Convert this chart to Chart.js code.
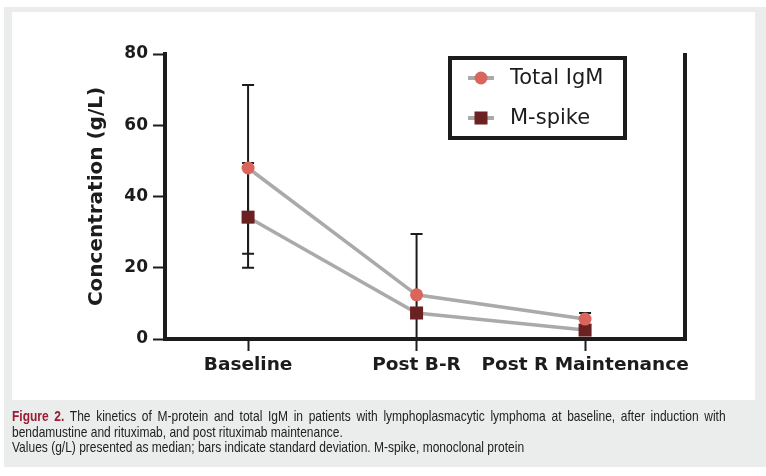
<!DOCTYPE html>
<html>
<head>
<meta charset="utf-8">
<script src="https://cdn.jsdelivr.net/npm/chart.js@4.4.1/dist/chart.umd.min.js"></script>
<style>
  html, body { margin: 0; padding: 0; background: #fff; }
  #frame { position: absolute; left: 4px; top: 7px; width: 762px; height: 460px; background: #ebecec; }
  #panel { position: absolute; left: 12px; top: 12px; width: 743px; height: 388px; background: #fff; }
  #chart { position: absolute; left: 0; top: 0; }
  #caption {
    position: absolute; left: 12px; top: 408px; width: 892px;
    transform: scaleX(0.80); transform-origin: 0 0;
    text-align: justify;
    font-family: "Liberation Sans Narrow", "Liberation Sans", Arial, sans-serif;
    font-size: 15px; line-height: 15.5px; color: #222;
  }
  #caption b { color: #9b1b30; }
</style>
</head>
<body>
<div id="frame"></div>
<div id="panel"></div>
<canvas id="chart" width="766" height="476"></canvas>
<div id="caption">
  <b>Figure 2.</b> The kinetics of M-protein and total IgM in patients with lymphoplasmacytic lymphoma at baseline, after induction with bendamustine and rituximab, and post rituximab maintenance.<br>
  Values (g/L) presented as median; bars indicate standard deviation. M-spike, monoclonal protein
</div>
<script>
// data
const categories = ["Baseline", "Post B-R", "Post R Maintenance"]
const totalIgM = [48, 12.4, 5.6]
const totalIgMHigh = [71.3, 29.5, 7.3]
const totalIgMLow = [23.9, -4.7, 3.9]
const mSpike = [34.2, 7.3, 2.5]
const mSpikeHigh = [49.4, null, null]
const mSpikeLow = [20, null, null]
const yTicks = [0, 20, 40, 60, 80]

const FONT = "'DejaVu Sans', Verdana, sans-serif"
const INK = "#1c1c1c"

const toPoints = (arr) => arr.map((v, i) => ({ x: i, y: v }))

// error bars drawn under the markers
const errorBars = {
  id: "errorBars",
  beforeDatasetsDraw(chart) {
    const { ctx, chartArea, scales } = chart
    const bars = [
      [totalIgMHigh, totalIgMLow],
      [mSpikeHigh, mSpikeLow]
    ]
    ctx.save()
    ctx.beginPath()
    ctx.rect(chartArea.left, chartArea.top - 10, chartArea.right - chartArea.left, chartArea.bottom - chartArea.top + 10)
    ctx.clip()
    ctx.strokeStyle = INK
    ctx.lineWidth = 2
    bars.forEach(([hi, lo]) => {
      hi.forEach((h, i) => {
        if (h === null) return
        const x = scales.x.getPixelForValue(i)
        const yh = scales.y.getPixelForValue(h)
        const yl = scales.y.getPixelForValue(lo[i])
        ctx.beginPath()
        ctx.moveTo(x, yh)
        ctx.lineTo(x, yl)
        ctx.moveTo(x - 6, yh)
        ctx.lineTo(x + 6, yh)
        ctx.moveTo(x - 6, yl)
        ctx.lineTo(x + 6, yl)
        ctx.stroke()
      })
    })
    ctx.restore()
  }
}

// right frame line + boxed legend
const frameAndLegend = {
  id: "frameAndLegend",
  afterDraw(chart) {
    const { ctx, chartArea } = chart
    ctx.save()
    ctx.strokeStyle = INK
    ctx.lineWidth = 4
    ctx.beginPath()
    ctx.moveTo(chartArea.right, chartArea.top - 1)
    ctx.lineTo(chartArea.right, chartArea.bottom + 2)
    ctx.stroke()

    // legend box
    ctx.strokeRect(450, 58, 175, 80)
    const rows = [
      { y: 78, label: "Total IgM", ds: chart.data.datasets[0] },
      { y: 118, label: "M-spike", ds: chart.data.datasets[1] }
    ]
    rows.forEach(r => {
      ctx.strokeStyle = "#aaaaaa"
      ctx.lineWidth = 4
      ctx.beginPath()
      ctx.moveTo(468, r.y)
      ctx.lineTo(494, r.y)
      ctx.stroke()
      ctx.fillStyle = r.ds.pointBackgroundColor
      if (r.ds.pointStyle === "rect") {
        ctx.fillRect(481 - 6.5, r.y - 6.5, 13, 13)
      } else {
        ctx.beginPath()
        ctx.arc(481, r.y, 6.5, 0, Math.PI * 2)
        ctx.fill()
      }
      ctx.fillStyle = INK
      ctx.font = "21px " + FONT
      ctx.textBaseline = "middle"
      ctx.fillText(r.label, 510, r.y + 1)
    })
    ctx.restore()
  }
}

new Chart(document.getElementById("chart"), {
  type: "line",
  data: {
    datasets: [
      {
        label: "Total IgM",
        data: toPoints(totalIgM),
        borderColor: "#aaaaaa",
        borderWidth: 3.5,
        pointStyle: "circle",
        pointRadius: 6.5,
        pointBackgroundColor: "#d9655d",
        pointBorderWidth: 0,
        tension: 0
      },
      {
        label: "M-spike",
        data: toPoints(mSpike),
        borderColor: "#aaaaaa",
        borderWidth: 3.5,
        pointStyle: "rect",
        pointRadius: 9.2,
        pointBackgroundColor: "#6b2121",
        pointBorderWidth: 0,
        tension: 0
      }
    ]
  },
  options: {
    responsive: false,
    animation: false,
    devicePixelRatio: 1,
    layout: {
      padding: { left: 77, right: 81, top: 54, bottom: 0 }
    },
    plugins: {
      legend: { display: false },
      tooltip: { enabled: false }
    },
    scales: {
      x: {
        type: "linear",
        min: -0.493,
        max: 2.593,
        afterBuildTicks: (axis) => { axis.ticks = categories.map((c, i) => ({ value: i })) },
        afterFit: (axis) => { axis.height = 137 },
        border: { display: true, width: 4, color: INK },
        grid: { drawOnChartArea: false, drawTicks: true, tickLength: 12, tickWidth: 2, tickColor: INK },
        ticks: {
          callback: (v) => categories[v],
          color: INK,
          padding: 3,
          maxRotation: 0,
          autoSkip: false,
          font: { family: FONT, size: 18.5, weight: "bold" }
        }
      },
      y: {
        min: 0,
        max: 80,
        afterBuildTicks: (axis) => { axis.ticks = yTicks.map(v => ({ value: v })) },
        afterFit: (axis) => { axis.width = 88 },
        border: { display: true, width: 4, color: INK },
        grid: { drawOnChartArea: false, drawTicks: true, tickLength: 12, tickWidth: 2, tickColor: INK },
        title: {
          display: true,
          text: "Concentration (g/L)",
          color: INK,
          padding: { top: 8, bottom: 0 },
          font: { family: FONT, size: 20, weight: "bold" }
        },
        ticks: {
          color: INK,
          padding: 5,
          font: { family: FONT, size: 17, weight: "bold" }
        }
      }
    }
  },
  plugins: [errorBars, frameAndLegend]
})
</script>
</body>
</html>
